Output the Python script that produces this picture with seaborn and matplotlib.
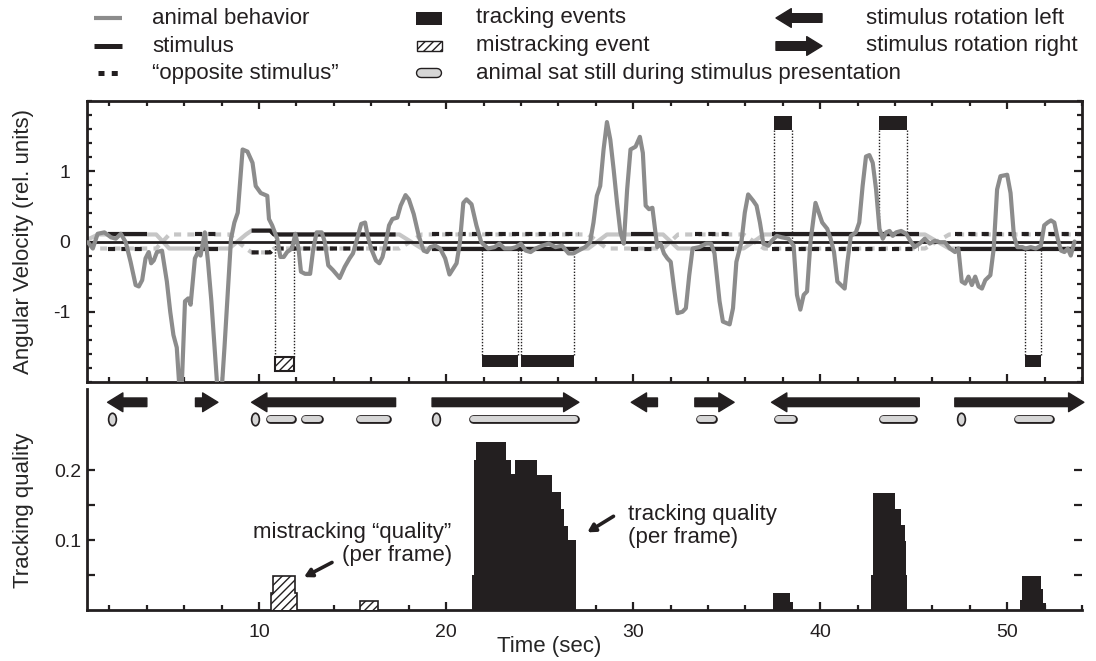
import numpy as np
import matplotlib
matplotlib.use("Agg")
import matplotlib.pyplot as plt
import seaborn as sns
from matplotlib.patches import Rectangle
from matplotlib.markers import MarkerStyle
from matplotlib.transforms import Affine2D
from matplotlib.ticker import MultipleLocator, FixedLocator, FixedFormatter, NullFormatter

# ---------------- data ----------------
# angular velocity of the animal (rel. units) over time (sec)
beh_time = [0.85, 1.11, 1.37, 1.73, 2.08, 2.34, 2.61, 2.87, 3.13, 3.40, 3.57, 3.75, 3.93, 4.10,
            4.23, 4.37, 4.54, 4.81, 5.07, 5.25, 5.42, 5.60, 5.77, 5.86, 6.04, 6.21, 6.34, 6.57,
            6.74, 6.87, 7.10, 7.27, 7.45, 7.62, 7.80, 7.98, 8.15, 8.33, 8.50, 8.68, 8.86, 9.12,
            9.38, 9.65, 9.82, 10.09, 10.44, 10.53, 10.70, 10.97, 11.14, 11.32, 11.50, 11.76,
            11.94, 12.11, 12.24, 12.46, 12.73, 12.90, 13.08, 13.35, 13.52, 13.70, 13.96, 14.31,
            14.58, 14.84, 15.02, 15.19, 15.46, 15.67, 15.81, 15.99, 16.25, 16.43, 16.60, 16.78,
            16.95, 17.13, 17.39, 17.57, 17.83, 18.01, 18.27, 18.54, 18.80, 18.98, 19.15, 19.42,
            19.68, 19.95, 20.18, 20.39, 20.56, 20.74, 20.92, 21.09, 21.36, 21.62, 21.88, 22.24,
            22.59, 22.85, 23.12, 23.47, 23.73, 24.00, 24.26, 24.52, 24.79, 25.14, 25.49, 25.85,
            26.20, 26.55, 26.80, 27.07, 27.43, 27.70, 27.88, 28.06, 28.24, 28.42, 28.60, 28.78,
            28.96, 29.14, 29.32, 29.50, 29.68, 29.86, 30.13, 30.36, 30.52, 30.67, 30.85, 31.03,
            31.17, 31.29, 31.47, 31.65, 31.83, 32.01, 32.19, 32.37, 32.64, 32.82, 33.00, 33.18,
            33.54, 33.90, 34.17, 34.35, 34.62, 34.80, 34.98, 35.16, 35.34, 35.52, 35.79, 35.97,
            36.15, 36.42, 36.60, 36.78, 36.96, 37.23, 37.41, 37.68, 37.95, 38.31, 38.58, 38.76,
            38.94, 39.12, 39.30, 39.48, 39.75, 39.93, 40.11, 40.38, 40.56, 40.74, 40.92, 41.19,
            41.31, 41.46, 41.64, 41.91, 42.09, 42.27, 42.45, 42.63, 42.81, 42.99, 43.17, 43.35,
            43.53, 43.71, 43.88, 44.06, 44.33, 44.60, 44.87, 45.05, 45.32, 45.59, 45.86, 46.13,
            46.40, 46.67, 46.94, 47.21, 47.39, 47.57, 47.75, 47.93, 48.11, 48.29, 48.47, 48.65,
            48.83, 49.10, 49.28, 49.46, 49.64, 50.00, 50.18, 50.36, 50.54, 50.81, 50.99, 51.26,
            51.53, 51.80, 51.98, 52.16, 52.34, 52.52, 52.70, 52.88, 53.06, 53.24, 53.40, 53.60]
beh_value = [-0.01, -0.10, 0.11, 0.13, 0.06, 0.04, 0.11, -0.01, -0.29, -0.62, -0.64, -0.55, -0.24, -0.15,
             -0.31, -0.27, -0.15, -0.13, -0.57, -1.00, -1.33, -1.51, -2.20, -2.10, -0.85, -0.81, -0.90, -0.24,
             -0.15, -0.20, 0.13, -0.29, -0.85, -1.51, -2.20, -2.20, -1.51, -0.71, 0.04, 0.27, 0.41, 1.31,
             1.28, 1.12, 0.79, 0.69, 0.65, 0.32, 0.23, 0.04, -0.22, -0.22, -0.15, -0.10,
             0.11, -0.10, -0.43, -0.46, -0.46, -0.10, 0.13, 0.13, -0.01, -0.34, -0.41, -0.52,
             -0.36, -0.24, -0.17, -0.01, 0.25, 0.27, 0.08, -0.10, -0.27, -0.31, -0.22, -0.01,
             0.23, 0.32, 0.34, 0.51, 0.66, 0.60, 0.39, 0.08, -0.13, -0.15, -0.08, -0.06,
             -0.10, -0.24, -0.47, -0.38, -0.31, -0.01, 0.55, 0.60, 0.53, 0.23, -0.01, -0.10,
             -0.08, -0.03, -0.10, -0.10, -0.08, -0.03, -0.13, -0.15, -0.10, -0.06, -0.03, -0.08,
             -0.06, -0.17, -0.17, -0.13, -0.08, -0.01, 0.27, 0.65, 0.79, 1.31, 1.70, 1.45,
             1.02, 0.55, 0.13, -0.03, 0.74, 1.31, 1.35, 1.49, 1.26, 0.51, 0.46, 0.48,
             0.18, -0.08, -0.03, -0.17, -0.24, -0.29, -0.67, -1.02, -1.00, -0.95, -0.48, -0.10,
             -0.08, -0.03, -0.03, -0.17, -0.85, -1.14, -1.16, -1.18, -0.95, -0.29, -0.01, 0.41,
             0.67, 0.58, 0.51, 0.27, -0.03, -0.06, 0.01, 0.08, 0.06, 0.04, -0.06, -0.76,
             -0.97, -0.76, -0.71, -0.01, 0.55, 0.41, 0.27, 0.18, 0.04, -0.15, -0.57, -0.64,
             -0.67, -0.29, 0.08, 0.13, 0.27, 0.79, 1.21, 1.23, 1.12, 0.74, 0.18, 0.04,
             0.13, 0.15, 0.08, 0.13, 0.15, 0.11, -0.01, -0.08, -0.03, 0.04, -0.03, 0.01,
             -0.01, -0.01, -0.10, -0.15, -0.10, -0.57, -0.60, -0.50, -0.62, -0.50, -0.64, -0.67,
             -0.55, -0.48, -0.10, 0.74, 0.93, 0.95, 0.69, 0.08, -0.08, -0.08, -0.10, -0.08,
             -0.10, -0.06, 0.23, 0.27, 0.30, 0.27, 0.04, -0.13, -0.15, -0.10, -0.20, 0.00]

# stimulus angular velocity (opposite stimulus is its negative)
stim_time = [0.85, 1.4, 1.9, 4.0, 4.5, 5.2, 6.6, 7.8, 8.4, 9.3, 9.6, 10.6, 10.8, 17.3, 17.5, 18.7,
             19.25, 27.1, 27.6, 28.6, 29.9, 31.3, 31.6, 32.4, 33.3, 35.4, 35.9, 37.0, 37.4, 45.3,
             45.6, 46.9, 47.2, 54.1]
stim_value = [0.03, 0.10, 0.10, 0.10, 0.10, -0.10, -0.10, -0.10, -0.10, 0.10, 0.155, 0.155, 0.10, 0.10,
              0.10, -0.10, -0.10, -0.10, -0.10, 0.10, 0.10, 0.10, 0.10, -0.10, -0.10, -0.10, -0.10,
              0.10, 0.10, 0.10, 0.10, -0.10, -0.10, -0.10]

# stimulus presentations
rot_start = [1.9, 6.6, 9.6, 19.25, 29.9, 33.3, 37.4, 47.2]
rot_end = [4.0, 7.8, 17.3, 27.1, 31.3, 35.4, 45.3, 54.1]
rot_dir = ["left", "right", "left", "right", "left", "right", "left", "right"]

# tracking / mistracking events
track_start = [21.94, 24.02, 37.52, 43.17, 50.97]
track_end = [23.87, 26.82, 38.52, 44.66, 51.80]
track_side = ["low", "low", "high", "high", "low"]
mistrack_start = [10.87]
mistrack_end = [11.85]

# animal sat still during stimulus presentation
still_start = [2.14, 9.79, 10.37, 12.25, 15.19, 19.47, 21.23, 33.37, 37.54, 43.16, 47.54, 50.37]
still_end = [2.14, 9.79, 11.98, 13.42, 17.06, 19.47, 27.11, 34.49, 38.77, 45.19, 47.54, 52.51]

# tracking quality per frame (step edges in sec, values)
quality_edges = [
    [21.40, 21.50, 21.62, 23.20, 23.45, 23.70, 24.88, 25.67, 26.13, 26.31, 26.53, 26.92],
    [37.50, 38.40, 38.54],
    [42.70, 42.85, 44.01, 44.30, 44.51, 44.60, 44.66],
    [50.67, 50.77, 51.80, 51.92, 52.07],
]
quality_values = [
    [0.05, 0.214, 0.24, 0.215, 0.195, 0.215, 0.193, 0.169, 0.145, 0.12, 0.10],
    [0.024, 0.012],
    [0.05, 0.167, 0.144, 0.121, 0.098, 0.05],
    [0.014, 0.048, 0.03, 0.01],
]
misquality_edges = [[10.62, 10.72, 11.94, 12.02], [15.40, 16.35]]
misquality_values = [[0.025, 0.048, 0.025], [0.013]]

# ---------------- style ----------------
sns.set_style("ticks")
plt.rcParams["font.family"] = ["Liberation Sans", "DejaVu Sans"]
plt.rcParams["hatch.linewidth"] = 1.0
plt.rcParams["axes.unicode_minus"] = False

INK = "#231f20"
GRAY = "#8c8c8c"
LIGHT = "#c6c6c6"
PILL = "#d6d6d6"

W, H = 1096, 661
fig = plt.figure(figsize=(W / 100, H / 100), dpi=100)


def box(l, t, r, b):
    return [l / W, 1 - b / H, (r - l) / W, (b - t) / H]


ax1 = fig.add_axes(box(87, 101, 1082, 382))
ax2 = fig.add_axes(box(87, 389, 1082, 610))
XLIM = (0.8, 54.0)

# ---------------- upper panel ----------------
st = np.array(stim_time)
sv = np.array(stim_value)
ax1.plot(st, sv, color=LIGHT, lw=3, zorder=2, solid_capstyle="butt")
ax1.plot(st, -sv, color=LIGHT, lw=3, zorder=2, ls=(0, (1.7, 1.5)))
for s0, s1 in zip(rot_start, rot_end):
    m = (st >= s0 - 1e-9) & (st <= s1 + 1e-9)
    ax1.plot(st[m], sv[m], color=INK, lw=3, zorder=3, solid_capstyle="butt")
    ax1.plot(st[m], -sv[m], color=INK, lw=3, zorder=3, ls=(0, (1.7, 1.5)))
ax1.axhline(0, color=INK, lw=2, zorder=3)

sns.lineplot(x=beh_time, y=beh_value, ax=ax1, color=GRAY, linewidth=3,
             estimator=None, sort=False, legend=False, zorder=4)

HIGH = (1.59, 1.78)
LOW = (-1.79, -1.61)
for t0, t1, side in zip(track_start, track_end, track_side):
    y0, y1 = HIGH if side == "high" else LOW
    ax1.add_patch(Rectangle((t0, y0), t1 - t0, y1 - y0, facecolor=INK, edgecolor=INK, lw=0, zorder=5))
    edge = y0 if side == "high" else y1
    for t in (t0, t1):
        ax1.plot([t, t], [edge, np.interp(t, beh_time, beh_value)], color=INK, lw=1,
                 ls=(0, (1, 1.2)), zorder=3)
for t0, t1 in zip(mistrack_start, mistrack_end):
    ax1.add_patch(Rectangle((t0, -1.84), t1 - t0, 0.19, facecolor="white", edgecolor=INK,
                            lw=1.5, hatch="////", zorder=5))
    for t in (t0, t1):
        ax1.plot([t, t], [-1.65, np.interp(t, beh_time, beh_value)], color=INK, lw=1,
                 ls=(0, (1, 1.2)), zorder=3)

ax1.set_xlim(*XLIM)
ax1.set_ylim(-2, 2)
ax1.xaxis.set_major_locator(FixedLocator([10, 20, 30, 40, 50]))
ax1.xaxis.set_minor_locator(MultipleLocator(2))
ax1.xaxis.set_major_formatter(NullFormatter())
ax1.yaxis.set_major_locator(FixedLocator([-1, 0, 1]))
ax1.yaxis.set_minor_locator(MultipleLocator(0.2))
ax1.tick_params(which="both", direction="in", top=True, right=True, width=1.6, colors=INK)
ax1.tick_params(which="major", length=6)
ax1.tick_params(which="minor", length=3.6)
ax1.tick_params(axis="y", labelsize=14, pad=12)
for s in ax1.spines.values():
    s.set_linewidth(2)
    s.set_color(INK)
ax1.set_ylabel("Angular Velocity (rel. units)", fontsize=16)
ax1.yaxis.set_label_coords(-0.053, 0.5)

# ---------------- lower panel ----------------
for e, v in zip(quality_edges, quality_values):
    ax2.stairs(v, e, fill=True, color=INK, lw=0, zorder=3)
for e, v in zip(misquality_edges, misquality_values):
    ax2.stairs(v, e, fill=True, facecolor="white", edgecolor=INK, hatch="////", lw=1.2, zorder=3)

ARROW_Y = 0.297
arrow_style = "simple,head_length=1.1,head_width=1.35,tail_width=0.62"
for t0, t1, d in zip(rot_start, rot_end, rot_dir):
    tip, tail = (t0, t1) if d == "left" else (t1, t0)
    ax2.annotate("", xy=(tip, ARROW_Y), xytext=(tail, ARROW_Y), annotation_clip=False,
                 arrowprops=dict(arrowstyle=arrow_style, mutation_scale=10, color=INK,
                                 shrinkA=0, shrinkB=0))

STILL_Y = 0.273
cap = 4 / 18.7
oval = MarkerStyle("o", transform=Affine2D().scale(0.62, 1.0))
for t0, t1 in zip(still_start, still_end):
    if t1 - t0 < 0.3:
        ax2.plot([t0], [STILL_Y], marker=oval, ms=9, mfc=PILL, mec=INK, mew=1.2, ls="none", zorder=4)
    else:
        ax2.plot([t0 + cap, t1 - cap], [STILL_Y] * 2, color=INK, lw=6.3, solid_capstyle="round", zorder=4)
        ax2.plot([t0 + cap, t1 - cap], [STILL_Y] * 2, color=PILL, lw=4.3, solid_capstyle="round", zorder=5)

ax2.text(20.3, 0.094, "mistracking \u201cquality\u201d\n(per frame)", ha="right", va="center",
         fontsize=16, multialignment="right", color=INK, linespacing=1.15)
ax2.annotate("", xy=(12.4, 0.047), xytext=(13.9, 0.068),
             arrowprops=dict(arrowstyle="-|>,head_length=0.45,head_width=0.25", lw=2.6, color=INK,
                             shrinkA=0, shrinkB=0))
ax2.text(29.75, 0.12, "tracking quality\n(per frame)", ha="left", va="center",
         fontsize=16, color=INK, linespacing=1.15)
ax2.annotate("", xy=(27.55, 0.111), xytext=(28.95, 0.134),
             arrowprops=dict(arrowstyle="-|>,head_length=0.45,head_width=0.25", lw=2.6, color=INK,
                             shrinkA=0, shrinkB=0))

ax2.set_xlim(*XLIM)
ax2.set_ylim(0, 0.316)
ax2.xaxis.set_major_locator(FixedLocator([10, 20, 30, 40, 50]))
ax2.xaxis.set_minor_locator(MultipleLocator(2))
ax2.yaxis.set_major_locator(FixedLocator([0.05, 0.1, 0.15, 0.2]))
ax2.yaxis.set_major_formatter(FixedFormatter(["", "0.1", "", "0.2"]))
ax2.tick_params(which="both", direction="in", width=1.6, colors=INK, labelsize=14)
ax2.tick_params(axis="y", which="major", left=True, right=True, length=6, pad=4)
ax2.tick_params(axis="x", which="major", length=6, pad=10)
ax2.tick_params(axis="x", which="minor", length=3.6)
ax2.spines["top"].set_visible(False)
ax2.spines["right"].set_visible(False)
for k in ("left", "bottom"):
    ax2.spines[k].set_linewidth(2)
    ax2.spines[k].set_color(INK)
ax2.set_ylabel("Tracking quality", fontsize=16)
ax2.yaxis.set_label_coords(-0.053, 0.45)
ax2.set_xlabel("Time (sec)", fontsize=16)
ax2.xaxis.set_label_coords(0.465, -0.117)

# ---------------- legend ----------------
lg = fig.add_axes([0, 0, 1, 1], zorder=10)
lg.set_xlim(0, W)
lg.set_ylim(H, 0)
lg.axis("off")
rows = [18, 46, 73]
lg.plot([94, 122], [rows[0]] * 2, color=GRAY, lw=3, solid_capstyle="butt")
lg.plot([94, 122], [rows[1]] * 2, color=INK, lw=3.6, solid_capstyle="butt")
lg.plot([98, 117.5], [rows[2]] * 2, color=INK, lw=3.6, ls=(0, (1.2, 1.45)))
lg.add_patch(Rectangle((416, 12), 26, 13, facecolor=INK, edgecolor=INK, lw=0))
lg.add_patch(Rectangle((417, 41), 25, 10, facecolor="white", edgecolor=INK, lw=1, hatch="////"))
lg.plot([421, 437], [rows[2]] * 2, color=INK, lw=7.5, solid_capstyle="round")
lg.plot([421, 437], [rows[2]] * 2, color=PILL, lw=5.5, solid_capstyle="round")
lg.annotate("", xy=(776, rows[0]), xytext=(822, rows[0]),
            arrowprops=dict(arrowstyle=arrow_style, mutation_scale=10, color=INK, shrinkA=0, shrinkB=0))
lg.annotate("", xy=(822, rows[1]), xytext=(776, rows[1]),
            arrowprops=dict(arrowstyle=arrow_style, mutation_scale=10, color=INK, shrinkA=0, shrinkB=0))
labels = [(152, rows[0], "animal behavior"), (152, rows[1], "stimulus"),
          (152, rows[2], "\u201copposite stimulus\u201d"),
          (476, rows[0], "tracking events"), (476, rows[1], "mistracking event"),
          (476, rows[2], "animal sat still during stimulus presentation"),
          (866, rows[0], "stimulus rotation left"), (866, rows[1], "stimulus rotation right")]
for x, y, s in labels:
    lg.text(x, y, s, ha="left", va="center", fontsize=16, color=INK)

fig.savefig("out.png", dpi=100)
